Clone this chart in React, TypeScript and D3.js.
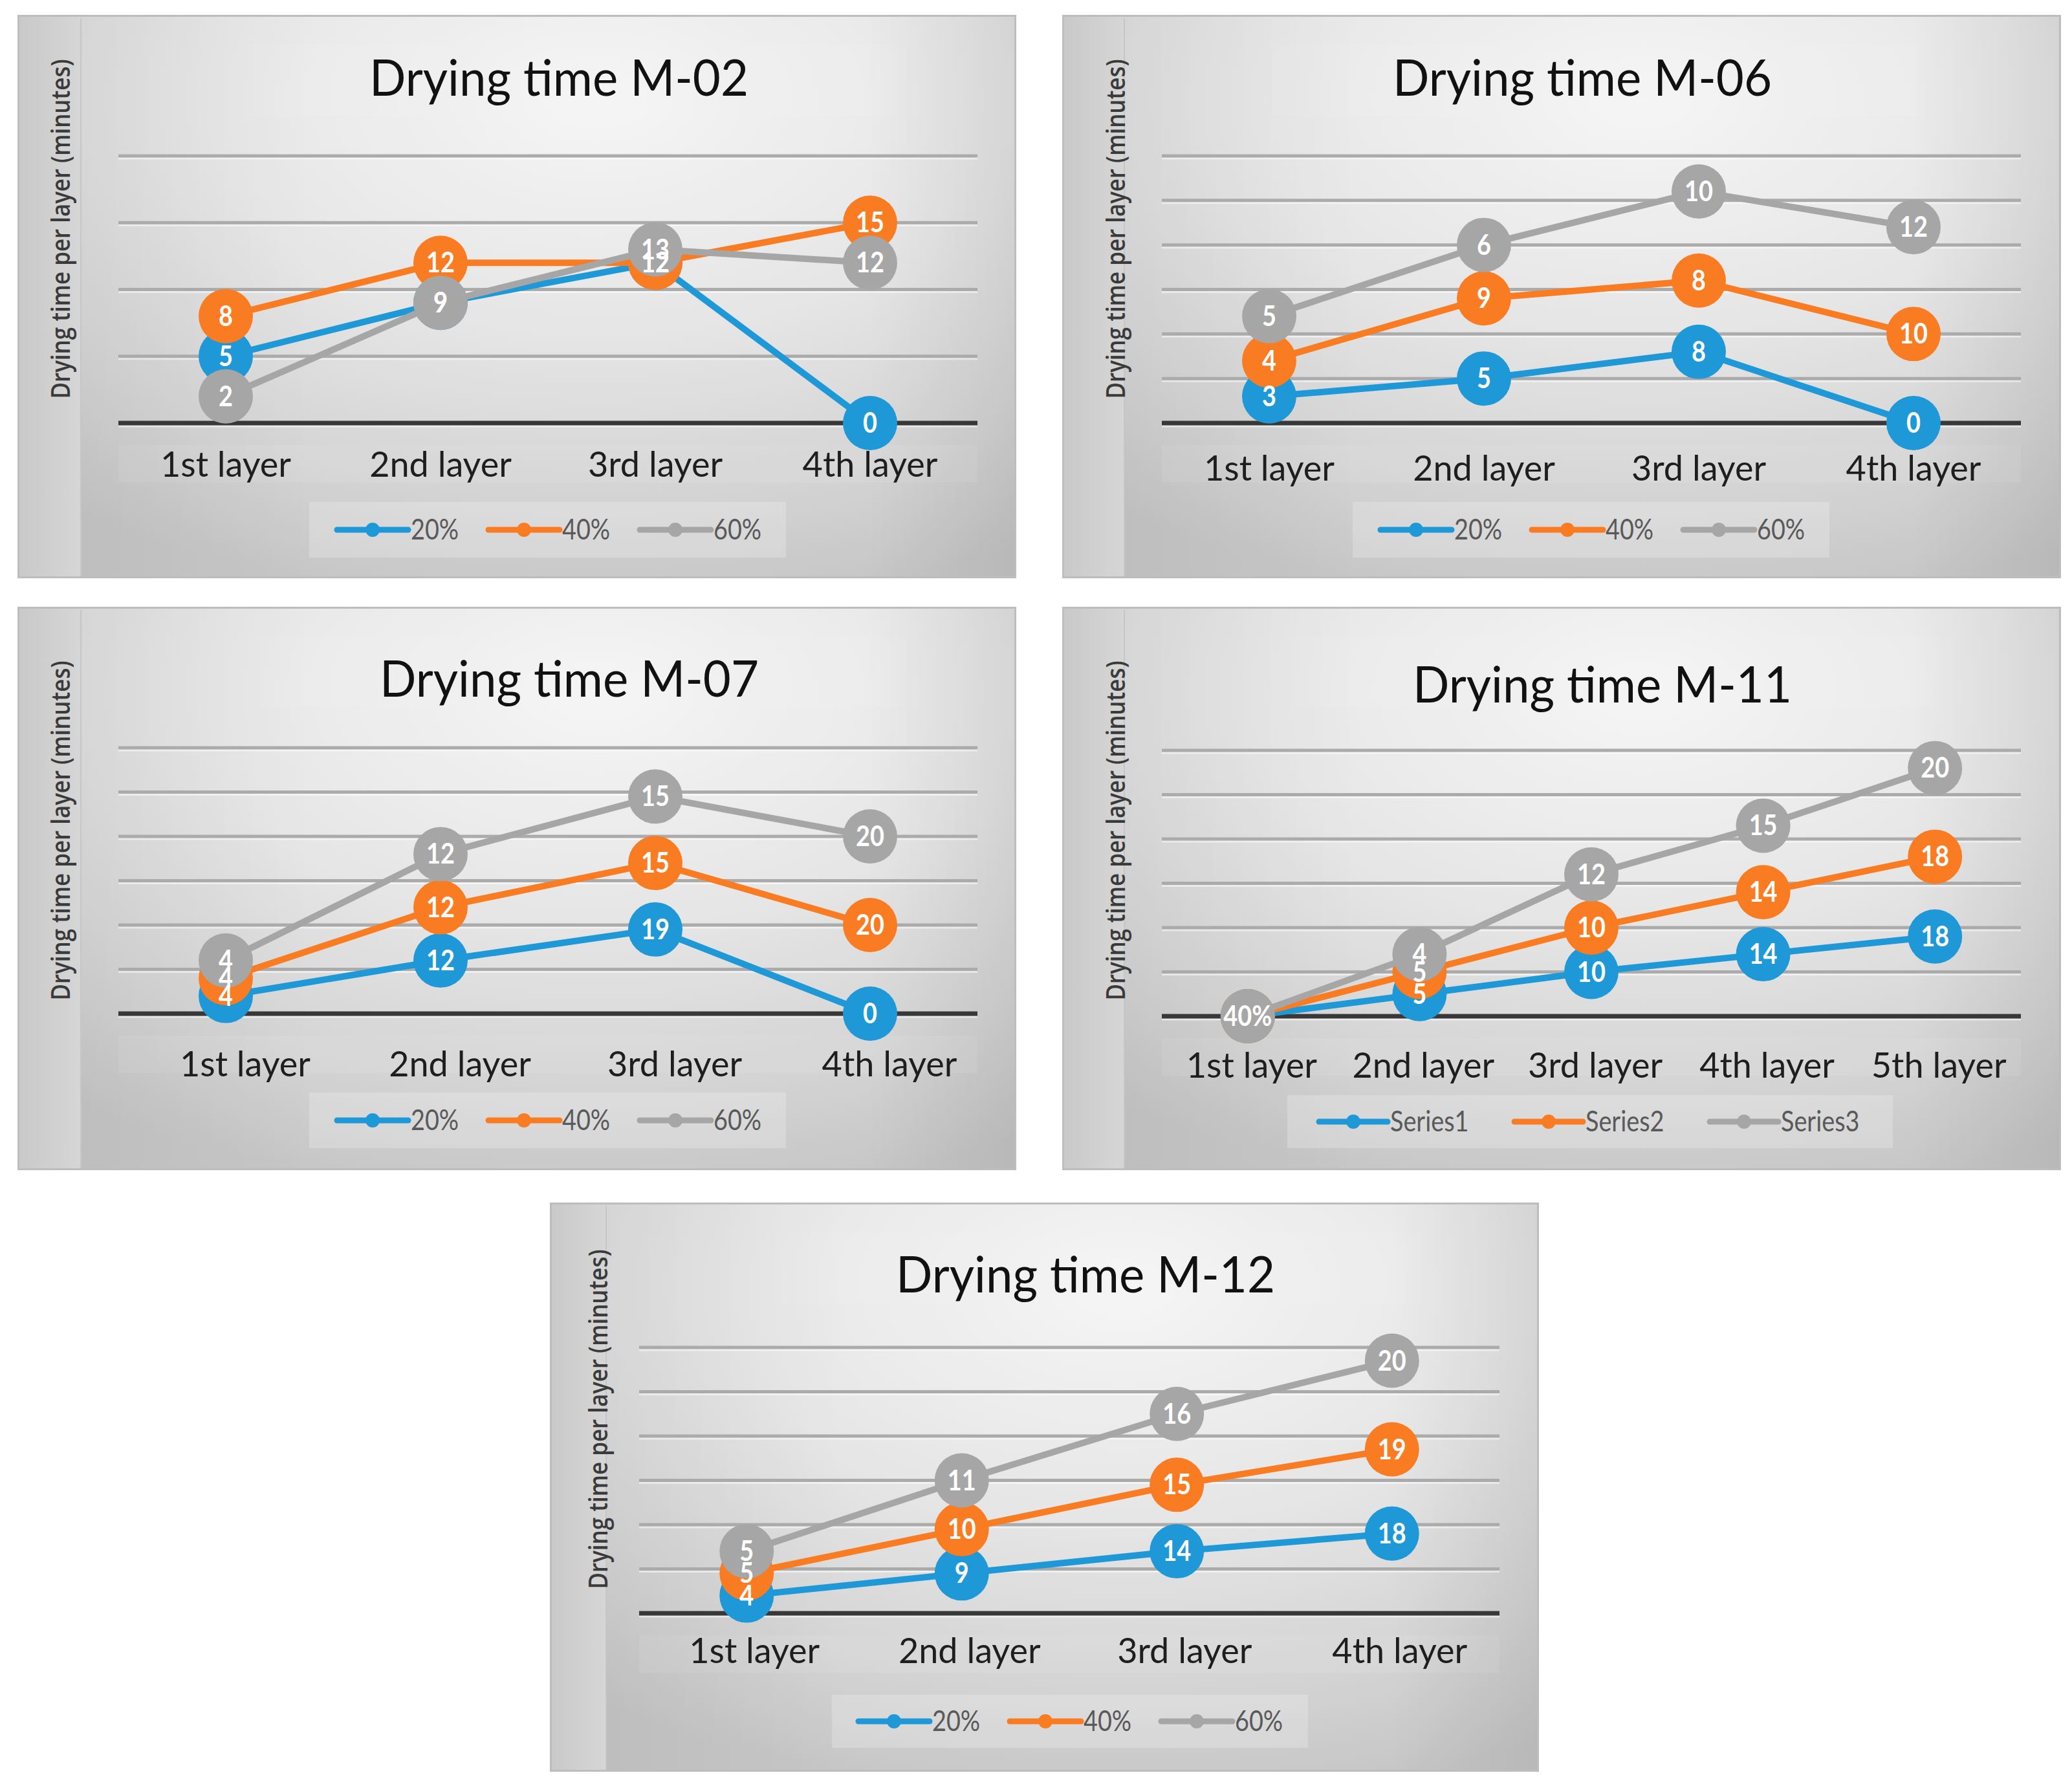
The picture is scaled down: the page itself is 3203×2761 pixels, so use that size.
import React from "react";
import * as d3 from "d3";

// ---------- data ----------
const layers4 = ["1st layer", "2nd layer", "3rd layer", "4th layer"];
const layers5 = ["1st layer", "2nd layer", "3rd layer", "4th layer", "5th layer"];
const pctNames = ["20%", "40%", "60%"];
const seriesNames = ["Series1", "Series2", "Series3"];

const m02_20 = [5, 9, 12, 0];
const m02_40 = [8, 12, 12, 15];
const m02_60 = [2, 9, 13, 12];

const m06_20 = [3, 5, 8, 0];
const m06_40 = [4, 9, 8, 10];
const m06_60 = [5, 6, 10, 12];

const m07_20 = [4, 12, 19, 0];
const m07_40 = [4, 12, 15, 20];
const m07_60 = [4, 12, 15, 20];

const m11_s1 = [0, 5, 10, 14, 18];
const m11_s2 = [0, 5, 10, 14, 18];
const m11_s3 = [0, 4, 12, 15, 20];
const m11_firstLabels = ["", "40%", ""];

const m12_20 = [4, 9, 14, 18];
const m12_40 = [5, 10, 15, 19];
const m12_60 = [5, 11, 16, 20];

const COLORS = ["#1e98d7", "#fa7c22", "#a6a6a6"];
const FONT = "Lato, 'Open Sans', sans-serif";

type PanelCfg = {
  title: string;
  x: number; y: number; w: number; h: number; strip: number;
  titleX: number; titleY: number;
  left: number; right: number; base: number; top: number;
  yMax: number; yStep: number; stacked: boolean;
  cats: string[]; series: number[][]; labels: string[][]; names: string[];
  catY: number; catDx: number;
  legX: number; legY: number; legW: number; legH: number; legOff: number; legStep: number; legLine: number;
  ytX: number; ytY: number;
};

const lbl = (arr: number[]) => arr.map(String);

const panels: PanelCfg[] = [
  {
    title: "Drying time M-02", x: 28, y: 24, w: 1542, h: 869, strip: 97,
    titleX: 836, titleY: 124, left: 155, right: 1483, base: 630, top: 217,
    yMax: 20, yStep: 5, stacked: false, cats: layers4,
    series: [m02_20, m02_40, m02_60], labels: [lbl(m02_20), lbl(m02_40), lbl(m02_60)], names: pctNames,
    catY: 713, catDx: 0,
    legX: 450, legY: 752, legW: 737, legH: 86, legOff: 43, legStep: 234, legLine: 110,
    ytX: 64, ytY: 330,
  },
  {
    title: "Drying time M-06", x: 1643, y: 24, w: 1542, h: 869, strip: 95,
    titleX: 803, titleY: 124, left: 153, right: 1481, base: 630, top: 217,
    yMax: 30, yStep: 5, stacked: true, cats: layers4,
    series: [m06_20, m06_40, m06_60], labels: [lbl(m06_20), lbl(m06_40), lbl(m06_60)], names: pctNames,
    catY: 719, catDx: 0,
    legX: 448, legY: 752, legW: 737, legH: 86, legOff: 43, legStep: 234, legLine: 110,
    ytX: 80, ytY: 330,
  },
  {
    title: "Drying time M-07", x: 28, y: 939, w: 1542, h: 869, strip: 97,
    titleX: 852, titleY: 138, left: 155, right: 1483, base: 628, top: 217,
    yMax: 60, yStep: 10, stacked: true, cats: layers4,
    series: [m07_20, m07_40, m07_60], labels: [lbl(m07_20), lbl(m07_40), lbl(m07_60)], names: pctNames,
    catY: 725, catDx: 30,
    legX: 450, legY: 750, legW: 737, legH: 86, legOff: 43, legStep: 234, legLine: 110,
    ytX: 64, ytY: 345,
  },
  {
    title: "Drying time M-11", x: 1643, y: 939, w: 1542, h: 869, strip: 95,
    titleX: 834, titleY: 147, left: 153, right: 1481, base: 632, top: 221,
    yMax: 60, yStep: 10, stacked: true, cats: layers5,
    series: [m11_s1, m11_s2, m11_s3],
    labels: [
      [m11_firstLabels[0], ...lbl(m11_s1).slice(1)],
      [m11_firstLabels[1], ...lbl(m11_s2).slice(1)],
      [m11_firstLabels[2], ...lbl(m11_s3).slice(1)],
    ],
    names: seriesNames,
    catY: 727, catDx: 6,
    legX: 347, legY: 754, legW: 936, legH: 82, legOff: 49, legStep: 302, legLine: 106,
    ytX: 80, ytY: 345,
  },
  {
    title: "Drying time M-12", x: 851, y: 1860, w: 1527, h: 878, strip: 86,
    titleX: 827, titleY: 138, left: 137, right: 1467, base: 634, top: 223,
    yMax: 60, yStep: 10, stacked: true, cats: layers4,
    series: [m12_20, m12_40, m12_60], labels: [lbl(m12_20), lbl(m12_40), lbl(m12_60)], names: pctNames,
    catY: 711, catDx: 12,
    legX: 435, legY: 760, legW: 736, legH: 82, legOff: 41, legStep: 234, legLine: 110,
    ytX: 72, ytY: 334,
  },
];

function Panel({ p }: { p: PanelCfg }) {
  const x = d3.scaleBand<string>().domain(p.cats).range([p.left, p.right]);
  const y = d3.scaleLinear().domain([0, p.yMax]).range([p.base, p.top]);
  const cx = (c: string) => (x(c) as number) + x.bandwidth() / 2;

  const table = p.cats.map((c, j) => {
    const o: any = { cat: c };
    p.series.forEach((s, i) => (o["s" + i] = s[j]));
    return o;
  });
  const keys = p.series.map((_, i) => "s" + i);
  const stackedData = d3.stack<any>().keys(keys)(table);
  const pos: number[][] = p.series.map((s, i) =>
    p.stacked ? stackedData[i].map((d) => d[1]) : s.slice()
  );

  const line = d3
    .line<number>()
    .x((_, j) => cx(p.cats[j]))
    .y((v) => y(v));

  const grid = d3.range(p.yStep, p.yMax + 0.001, p.yStep);

  return (
    <g transform={`translate(${p.x},${p.y})`}>
      {/* background */}
      <rect x={0} y={0} width={p.w} height={p.h} fill="url(#panelBg)" />
      <rect x={0} y={0} width={p.w} height={p.h} fill="url(#panelShade)" />
      <rect x={0} y={0} width={p.strip} height={p.h} fill="url(#stripBg)" />
      <line x1={p.strip} x2={p.strip} y1={4} y2={p.h} stroke="#c6c6c6" strokeWidth={2} />
      <rect x={0.5} y={0.5} width={p.w - 1} height={p.h - 1} fill="none" stroke="#bdbdbd" strokeWidth={3} />
      <rect x={p.titleX - 480} y={45} width={1000} height={110} fill="#ffffff" opacity={0.06} />
      <rect x={p.left} y={p.base + 34} width={p.right - p.left} height={58} fill="#ffffff" opacity={0.07} />

      {/* title */}
      <text
        x={p.titleX}
        y={p.titleY}
        textAnchor="middle"
        fontFamily={FONT}
        fontSize={77}
        fill="#111"
        textLength={586}
        lengthAdjust="spacingAndGlyphs"
      >
        {p.title}
      </text>

      {/* y title */}
      <text
        transform={`translate(${p.ytX},${p.ytY}) rotate(-90)`}
        textAnchor="middle"
        dominantBaseline="central"
        fontFamily="'Open Sans', sans-serif"
        fontWeight={600}
        fontSize={40}
        fill="#3a3a3a"
        textLength={525}
        lengthAdjust="spacingAndGlyphs"
      >
        Drying time per layer (minutes)
      </text>

      {/* gridlines */}
      {grid.map((g) => (
        <g key={g}>
          <line x1={p.left} x2={p.right} y1={y(g) + 4} y2={y(g) + 4} stroke="#ffffff" strokeOpacity={0.5} strokeWidth={3} />
          <line x1={p.left} x2={p.right} y1={y(g)} y2={y(g)} stroke="#ababab" strokeWidth={5} />
        </g>
      ))}
      <line x1={p.left} x2={p.right} y1={y(0) + 5} y2={y(0) + 5} stroke="#ffffff" strokeOpacity={0.5} strokeWidth={3} />
      <line x1={p.left} x2={p.right} y1={y(0)} y2={y(0)} stroke="#383838" strokeWidth={7} />

      {/* category labels */}
      {p.cats.map((c) => (
        <text
          key={c}
          x={cx(c) + p.catDx}
          y={p.catY}
          textAnchor="middle"
          fontFamily={FONT}
          fontSize={54}
          fill="#1e1e1e"
        >
          {c}
        </text>
      ))}

      {/* series */}
      {pos.map((vals, i) => (
        <g key={i}>
          <path d={line(vals) || ""} fill="none" stroke={COLORS[i]} strokeWidth={10} strokeLinejoin="round" />
          {vals.map((v, j) => (
            <circle key={j} cx={cx(p.cats[j])} cy={y(v)} r={42} fill={COLORS[i]} />
          ))}
        </g>
      ))}
      {/* data labels */}
      {pos.map((vals, i) =>
        vals.map((v, j) => (
          <text
            key={i + "-" + j}
            transform={`translate(${cx(p.cats[j])},${y(v) + 15}) scale(0.88,1)`}
            textAnchor="middle"
            fontFamily={FONT}
            fontWeight={700}
            fontSize={43}
            fill="#ffffff"
          >
            {p.labels[i][j]}
          </text>
        ))
      )}

      {/* legend */}
      <rect x={p.legX} y={p.legY} width={p.legW} height={p.legH} fill="#ffffff" opacity={0.22} />
      {p.names.map((n, i) => {
        const lx = p.legX + p.legOff + i * p.legStep;
        const ly = p.legY + p.legH / 2;
        return (
          <g key={n}>
            <line x1={lx} x2={lx + p.legLine} y1={ly} y2={ly} stroke={COLORS[i]} strokeWidth={9} strokeLinecap="round" />
            <circle cx={lx + p.legLine / 2} cy={ly} r={11} fill={COLORS[i]} />
            <text
              transform={`translate(${lx + p.legLine + 4},${ly + 15}) scale(0.86,1)`}
              fontFamily={FONT}
              fontSize={44}
              fill="#595959"
            >
              {n}
            </text>
          </g>
        );
      })}
    </g>
  );
}

export default function App() {
  return (
    <svg
      width={3203}
      height={2761}
      style={{ position: "absolute", left: 0, top: 0, background: "#ffffff" }}
    >
      <defs>
        <radialGradient id="panelBg" cx="0.58" cy="0.15" r="0.9" gradientUnits="objectBoundingBox">
          <stop offset="0" stopColor="#f5f5f5" />
          <stop offset="0.45" stopColor="#e6e6e6" />
          <stop offset="0.8" stopColor="#d3d3d3" />
          <stop offset="1" stopColor="#c6c6c6" />
        </radialGradient>
        <linearGradient id="panelShade" x1="0" x2="1" y1="0" y2="0">
          <stop offset="0" stopColor="#000" stopOpacity={0.05} />
          <stop offset="0.3" stopColor="#000" stopOpacity={0} />
          <stop offset="0.85" stopColor="#000" stopOpacity={0} />
          <stop offset="1" stopColor="#000" stopOpacity={0.07} />
        </linearGradient>
        <linearGradient id="stripBg" x1="0" x2="1" y1="0" y2="0">
          <stop offset="0" stopColor="#c9c9c9" />
          <stop offset="1" stopColor="#d6d6d6" />
        </linearGradient>
      </defs>
      <rect x={0} y={0} width={3203} height={2761} fill="#ffffff" />
      {panels.map((p) => (
        <Panel key={p.title} p={p} />
      ))}
    </svg>
  );
}
